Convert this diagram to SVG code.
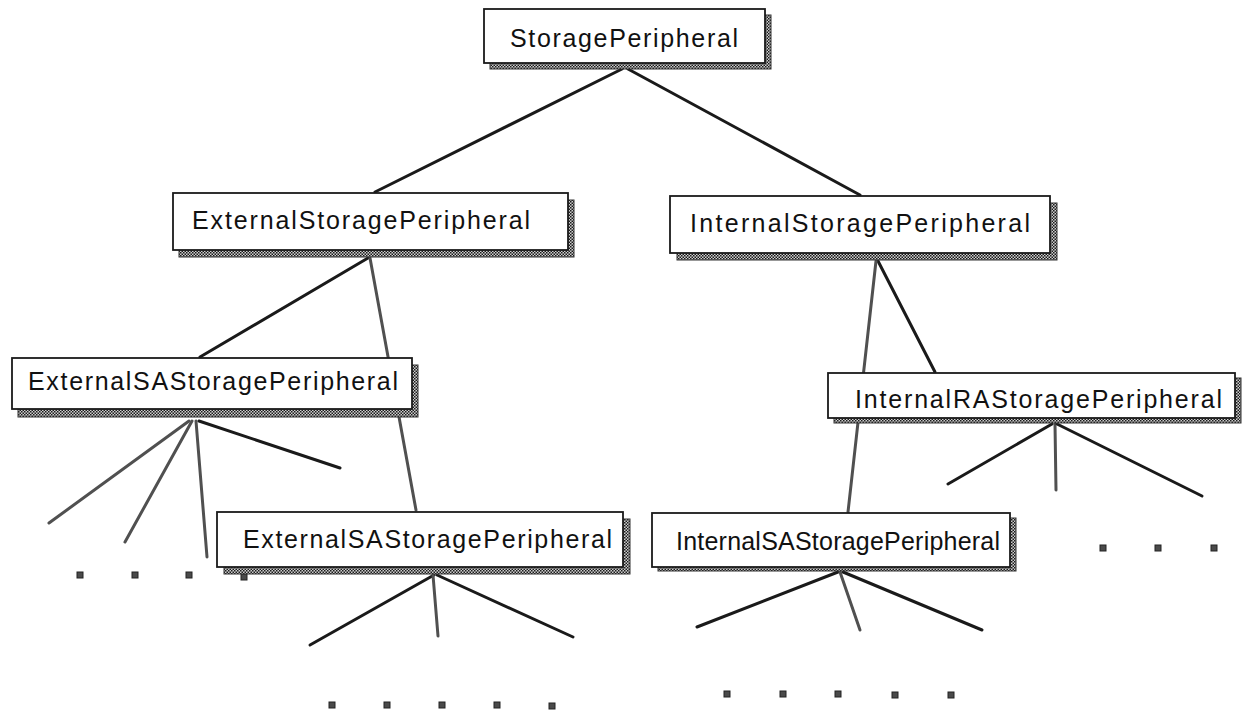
<svg xmlns="http://www.w3.org/2000/svg" width="1244" height="715" viewBox="0 0 1244 715">
  <defs>
    <!-- dithered grey fill used for the drop shadows -->
    <pattern id="dither" width="3" height="3" patternUnits="userSpaceOnUse">
      <rect width="3" height="3" fill="#cfcfcf"/>
      <rect width="1.5" height="1.5" fill="#1a1a1a"/>
      <rect x="1.5" y="1.5" width="1.5" height="1.5" fill="#1a1a1a"/>
    </pattern>
  </defs>
  <style>
    .shadow { fill: url(#dither); stroke: #333; stroke-width: 1; }
    .box { fill: #fff; stroke: #1a1a1a; stroke-width: 1.8; }
    .label { font-family: "Liberation Sans", Arial, sans-serif; font-size: 25px; fill: #111; }
    .edge { stroke: #1a1a1a; stroke-width: 3; stroke-linecap: round; fill: none; }
    .edge.grey { stroke: #505050; }
    .dot { fill: #4a4a4a; stroke: #222; stroke-width: 1; }
  </style>
  <rect width="1244" height="715" fill="#fff"/>

  <!-- connectors -->
  <g id="connectors">
    <line class="edge" x1="622" y1="69" x2="375" y2="192"/>
    <line class="edge" x1="628" y1="69" x2="860" y2="195"/>
    <line class="edge" x1="368" y1="258" x2="200" y2="357"/>
    <line class="edge grey" x1="370" y1="258" x2="416" y2="510"/>
    <line class="edge" x1="878" y1="261" x2="935" y2="372"/>
    <line class="edge grey" x1="876" y1="261" x2="848" y2="512"/>

    <line class="edge grey" x1="189" y1="421" x2="49" y2="523"/>
    <line class="edge grey" x1="192" y1="421" x2="125" y2="542"/>
    <line class="edge grey" x1="196" y1="421" x2="207" y2="557"/>
    <line class="edge" x1="199" y1="421" x2="340" y2="468"/>

    <line class="edge" x1="434" y1="575" x2="310" y2="645"/>
    <line class="edge grey" x1="433" y1="575" x2="438" y2="636"/>
    <line class="edge" x1="437" y1="575" x2="573" y2="637"/>

    <line class="edge" x1="838" y1="572" x2="697" y2="627"/>
    <line class="edge grey" x1="840" y1="572" x2="860" y2="630"/>
    <line class="edge" x1="843" y1="572" x2="982" y2="630"/>

    <line class="edge" x1="1052" y1="424" x2="948" y2="484"/>
    <line class="edge grey" x1="1055" y1="424" x2="1056" y2="490"/>
    <line class="edge" x1="1057" y1="424" x2="1202" y2="496"/>
  </g>

  <!-- continuation marks -->
  <g id="ellipses">
    <rect class="dot" x="77" y="572" width="6" height="6"/>
    <rect class="dot" x="132" y="572" width="6" height="6"/>
    <rect class="dot" x="186" y="572" width="6" height="6"/>
    <rect class="dot" x="241" y="574" width="6" height="6"/>

    <rect class="dot" x="1100" y="545" width="6" height="6"/>
    <rect class="dot" x="1155" y="545" width="6" height="6"/>
    <rect class="dot" x="1211" y="545" width="6" height="6"/>

    <rect class="dot" x="329" y="702" width="6" height="6"/>
    <rect class="dot" x="384" y="702" width="6" height="6"/>
    <rect class="dot" x="439" y="702" width="6" height="6"/>
    <rect class="dot" x="494" y="702" width="6" height="6"/>
    <rect class="dot" x="549" y="703" width="6" height="6"/>

    <rect class="dot" x="724" y="691" width="6" height="6"/>
    <rect class="dot" x="780" y="691" width="6" height="6"/>
    <rect class="dot" x="835" y="691" width="6" height="6"/>
    <rect class="dot" x="892" y="692" width="6" height="6"/>
    <rect class="dot" x="948" y="692" width="6" height="6"/>
  </g>

  <g id="storage-peripheral">
    <rect class="shadow" x="490" y="15" width="281" height="54"/>
    <rect class="box" x="484" y="9" width="281" height="54"/>
    <text class="label" x="510" y="47" textLength="228" lengthAdjust="spacing">StoragePeripheral</text>
  </g>

  <g id="external-storage-peripheral">
    <rect class="shadow" x="179" y="200" width="395" height="57"/>
    <rect class="box" x="173" y="193" width="395" height="57"/>
    <text class="label" x="192" y="229" textLength="338" lengthAdjust="spacing">ExternalStoragePeripheral</text>
  </g>

  <g id="internal-storage-peripheral">
    <rect class="shadow" x="677" y="203" width="380" height="57"/>
    <rect class="box" x="670" y="196" width="380" height="57"/>
    <text class="label" x="690" y="232" textLength="340" lengthAdjust="spacing">InternalStoragePeripheral</text>
  </g>

  <g id="external-sa-storage-peripheral-1">
    <rect class="shadow" x="18" y="365" width="400" height="52"/>
    <rect class="box" x="12" y="358" width="400" height="51"/>
    <text class="label" x="28" y="390" textLength="370" lengthAdjust="spacing">ExternalSAStoragePeripheral</text>
  </g>

  <g id="external-sa-storage-peripheral-2">
    <rect class="shadow" x="224" y="519" width="406" height="55"/>
    <rect class="box" x="217" y="512" width="406" height="55"/>
    <text class="label" x="243" y="548" textLength="369" lengthAdjust="spacing">ExternalSAStoragePeripheral</text>
  </g>

  <g id="internal-sa-storage-peripheral">
    <rect class="shadow" x="658" y="518" width="358" height="53"/>
    <rect class="box" x="652" y="513" width="358" height="54"/>
    <text class="label" x="676" y="550" textLength="324" lengthAdjust="spacing">InternalSAStoragePeripheral</text>
  </g>

  <g id="internal-ra-storage-peripheral">
    <rect class="shadow" x="834" y="378" width="407" height="45"/>
    <rect class="box" x="828" y="373" width="407" height="45"/>
    <text class="label" x="855" y="408" textLength="367" lengthAdjust="spacing">InternalRAStoragePeripheral</text>
  </g>
</svg>
